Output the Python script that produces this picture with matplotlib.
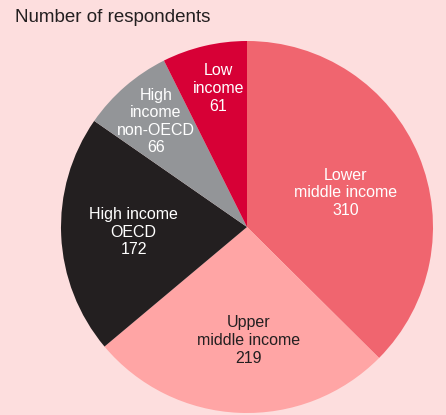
import numpy as np
import matplotlib.pyplot as plt

plt.rcParams['font.family'] = ['Liberation Sans', 'DejaVu Sans']

# data, clockwise from 12 o'clock
labels = ["Lower\nmiddle income", "Upper\nmiddle income", "High income\nOECD",
          "High\nincome\nnon-OECD", "Low\nincome"]
counts = [310, 219, 172, 66, 61]
colors = ["#F0656F", "#FFA5A5", "#231F20", "#939598", "#D70036"]
text_colors = ["white", "#231F20", "white", "white", "white"]
# label placement: fraction of radius and angle nudge (deg)
label_dist = [0.56, 0.61, 0.61, 0.75, 0.76]
label_nudge = [-3.5, 3.0, 0.0, 0.0, -1.5]

bg = "#FDDEDE"
fig = plt.figure(figsize=(4.46, 4.15), dpi=100, facecolor=bg)
ax = fig.add_axes([61 / 446, 2 / 415, 372 / 446, 372 / 415])
ax.set_facecolor(bg)

wedges, _ = ax.pie(counts, colors=colors, startangle=90, counterclock=False,
                   wedgeprops=dict(linewidth=0))
for w, lab, n, tc, d, a in zip(wedges, labels, counts, text_colors, label_dist, label_nudge):
    mid = np.deg2rad((w.theta1 + w.theta2) / 2 + a)
    ax.text(d * np.cos(mid), d * np.sin(mid), f"{lab}\n{n}", ha="center", va="center",
            color=tc, fontsize=11.5, linespacing=1.22)

ax.set_xlim(-1, 1)
ax.set_ylim(-1, 1)
ax.set_aspect("equal")
ax.axis("off")

fig.text(15 / 446, 1 - 18 / 415, "Number of respondents", ha="left", va="center",
         fontsize=13.5, color="#231F20")

fig.savefig("out.png", dpi=100, facecolor=bg)
